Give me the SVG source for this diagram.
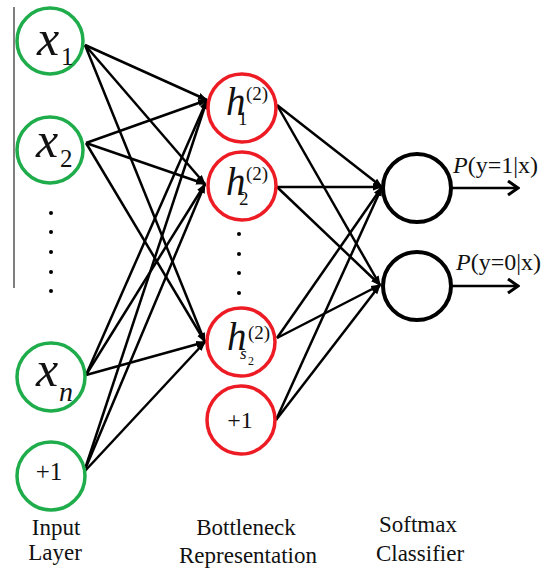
<svg xmlns="http://www.w3.org/2000/svg" width="552" height="571" viewBox="0 0 552 571">
<style>
.in{fill:#fff;stroke:#1fac4b;stroke-width:3.5}
.hid{fill:#fff;stroke:#ed1c24;stroke-width:3.5}
.out{fill:#fff;stroke:#000;stroke-width:4}
.c{stroke:#000;stroke-width:2.5;fill:none}
.dot{fill:#000}
</style>
<defs>
<marker id="ah" markerUnits="userSpaceOnUse" markerWidth="10" markerHeight="10" viewBox="0 0 10 10" refX="9" refY="5" orient="auto">
<path d="M0,1.5 L10,5 L0,8.5 z" fill="#000"/>
</marker>
<marker id="oa" markerUnits="userSpaceOnUse" markerWidth="14" markerHeight="18" viewBox="0 0 14 18" refX="12" refY="9" orient="auto">
<path d="M2,2 L12,9 L2,16" fill="none" stroke="#000" stroke-width="3"/>
</marker>
</defs>
<line x1="14" y1="7" x2="14" y2="288" stroke="#555" stroke-width="1.5"/>
<g id="connectors">
<line class="c" x1="85" y1="45" x2="207" y2="100" marker-end="url(#ah)"/>
<line class="c" x1="85" y1="45" x2="205" y2="184" marker-end="url(#ah)"/>
<line class="c" x1="85" y1="45" x2="205" y2="342" marker-end="url(#ah)"/>
<line class="c" x1="86" y1="143" x2="207" y2="100" marker-end="url(#ah)"/>
<line class="c" x1="86" y1="143" x2="205" y2="184" marker-end="url(#ah)"/>
<line class="c" x1="86" y1="143" x2="205" y2="342" marker-end="url(#ah)"/>
<line class="c" x1="86" y1="375" x2="207" y2="100" marker-end="url(#ah)"/>
<line class="c" x1="86" y1="375" x2="205" y2="184" marker-end="url(#ah)"/>
<line class="c" x1="86" y1="375" x2="205" y2="342" marker-end="url(#ah)"/>
<line class="c" x1="84" y1="472" x2="207" y2="100" marker-end="url(#ah)"/>
<line class="c" x1="84" y1="472" x2="205" y2="184" marker-end="url(#ah)"/>
<line class="c" x1="84" y1="472" x2="205" y2="342" marker-end="url(#ah)"/>
<line class="c" x1="277" y1="105" x2="382" y2="187" marker-end="url(#ah)"/>
<line class="c" x1="277" y1="105" x2="380" y2="285" marker-end="url(#ah)"/>
<line class="c" x1="277" y1="187" x2="382" y2="187" marker-end="url(#ah)"/>
<line class="c" x1="277" y1="187" x2="380" y2="285" marker-end="url(#ah)"/>
<line class="c" x1="277" y1="338" x2="382" y2="187" marker-end="url(#ah)"/>
<line class="c" x1="277" y1="338" x2="380" y2="285" marker-end="url(#ah)"/>
<line class="c" x1="276" y1="420" x2="382" y2="187" marker-end="url(#ah)"/>
<line class="c" x1="276" y1="420" x2="380" y2="285" marker-end="url(#ah)"/>
<line class="c" x1="452" y1="188" x2="518" y2="188" stroke-width="3" marker-end="url(#oa)"/>
<line class="c" x1="452" y1="286" x2="518" y2="286" stroke-width="3" marker-end="url(#oa)"/>
</g>
<g font-family="Liberation Serif, Times New Roman, serif" fill="#111">
<g id="x1">
<circle class="in" cx="50" cy="41" r="33"/>
<text font-family="Liberation Serif, serif" font-style="italic" x="37" y="55" font-size="50">x</text>
<text font-family="Liberation Serif, serif" x="61" y="65" font-size="25">1</text>
</g>
<g id="x2">
<circle class="in" cx="50" cy="150" r="33"/>
<text font-family="Liberation Serif, serif" font-style="italic" x="36" y="157" font-size="50">x</text>
<text font-family="Liberation Serif, serif" x="60" y="167" font-size="25">2</text>
</g>
<g id="input-dots">
<circle class="dot" cx="51" cy="213" r="2"/>
<circle class="dot" cx="51" cy="232" r="2"/>
<circle class="dot" cx="51" cy="252" r="2"/>
<circle class="dot" cx="51" cy="272" r="2"/>
<circle class="dot" cx="51" cy="291" r="2"/>
</g>
<g id="xn">
<circle class="in" cx="51" cy="377" r="34"/>
<text font-family="Liberation Serif, serif" font-style="italic" x="36" y="386" font-size="50">x</text>
<text font-family="Liberation Serif, serif" font-style="italic" x="59" y="401" font-size="28">n</text>
</g>
<g id="bias-in">
<circle class="in" cx="51" cy="476" r="34"/>
<text font-family="Liberation Serif, serif" x="49" y="480" font-size="25" text-anchor="middle">+1</text>
</g>
<g id="h1">
<circle class="hid" cx="242" cy="108" r="34"/>
<text font-family="Liberation Serif, serif" font-style="italic" x="226" y="115" font-size="39">h</text>
<text font-family="Liberation Serif, serif" x="246" y="100" font-size="19">(2)</text>
<text font-family="Liberation Serif, serif" x="238" y="125" font-size="19">1</text>
</g>
<g id="h2">
<circle class="hid" cx="242" cy="186" r="34"/>
<text font-family="Liberation Serif, serif" font-style="italic" x="226" y="195" font-size="39">h</text>
<text font-family="Liberation Serif, serif" x="246" y="180" font-size="19">(2)</text>
<text font-family="Liberation Serif, serif" x="239" y="205" font-size="19">2</text>
</g>
<g id="hidden-dots">
<circle class="dot" cx="239" cy="234" r="2"/>
<circle class="dot" cx="239" cy="254" r="2"/>
<circle class="dot" cx="239" cy="273" r="2"/>
<circle class="dot" cx="239" cy="293" r="2"/>
</g>
<g id="hs2">
<circle class="hid" cx="241" cy="342" r="34"/>
<text font-family="Liberation Serif, serif" font-style="italic" x="227" y="350" font-size="39">h</text>
<text font-family="Liberation Serif, serif" x="248" y="339" font-size="19">(2)</text>
<text font-family="Liberation Serif, serif" font-style="italic" x="240" y="359" font-size="17">s</text>
<text font-family="Liberation Serif, serif" x="248" y="365" font-size="12">2</text>
</g>
<g id="bias-hid">
<circle class="hid" cx="241" cy="420" r="34"/>
<text font-family="Liberation Serif, serif" x="240" y="428" font-size="24" text-anchor="middle">+1</text>
</g>
<g id="o1">
<circle class="out" cx="417" cy="188" r="34"/>
<text font-family="Liberation Serif, serif" x="453" y="173" font-size="24"><tspan font-style="italic">P</tspan>(y=1|x)</text>
</g>
<g id="o2">
<circle class="out" cx="417" cy="286" r="34"/>
<text font-family="Liberation Serif, serif" x="456" y="270" font-size="24"><tspan font-style="italic">P</tspan>(y=0|x)</text>
</g>
<g id="labels" font-size="23" text-anchor="middle">
<text font-family="Liberation Serif, serif" x="56" y="535">Input</text>
<text font-family="Liberation Serif, serif" x="55" y="560">Layer</text>
<text font-family="Liberation Serif, serif" x="246" y="535">Bottleneck</text>
<text font-family="Liberation Serif, serif" x="248" y="563">Representation</text>
<text font-family="Liberation Serif, serif" x="418" y="532">Softmax</text>
<text font-family="Liberation Serif, serif" x="420" y="561">Classifier</text>
</g>
</g>
</svg>
